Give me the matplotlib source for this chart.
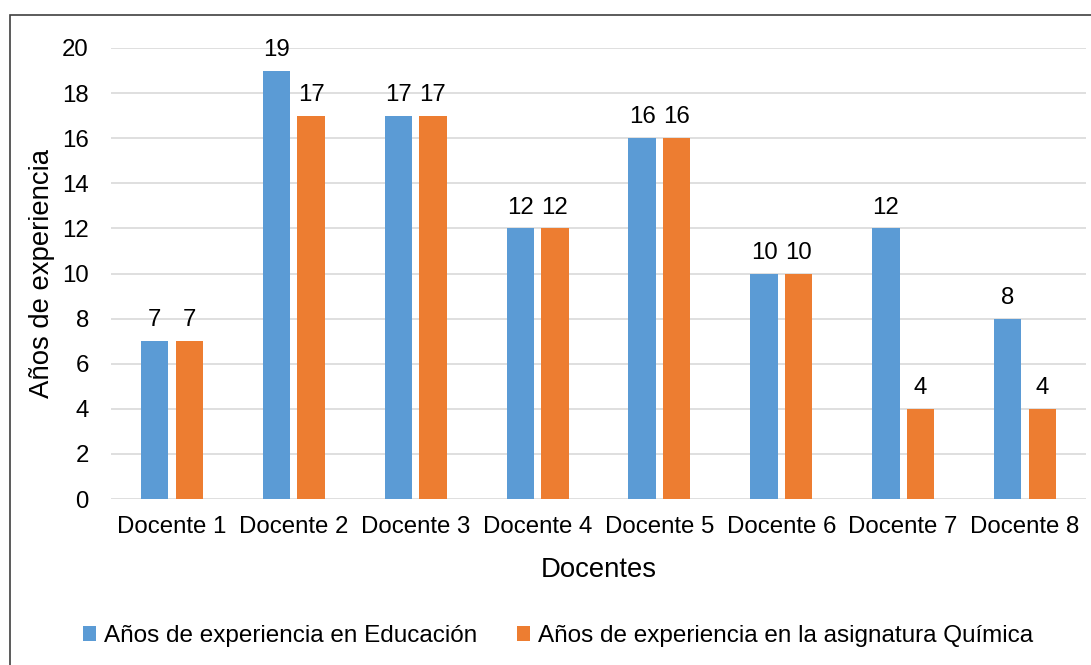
import numpy as np
import matplotlib.pyplot as plt
from matplotlib.patches import Rectangle

plt.rcParams['font.family'] = ['Liberation Sans', 'DejaVu Sans']

docentes = ['Docente 1', 'Docente 2', 'Docente 3', 'Docente 4',
            'Docente 5', 'Docente 6', 'Docente 7', 'Docente 8']
educacion = [7, 19, 17, 12, 16, 10, 12, 8]
quimica = [7, 17, 17, 12, 16, 10, 4, 4]

azul = '#5B9BD5'
naranja = '#ED7D31'

fig = plt.figure(figsize=(10.91, 6.65), dpi=100)
W, H = 1091, 665
ax = fig.add_axes([111 / W, 1 - 499 / H, (1086 - 111) / W, (499 - 48) / H])

x = np.arange(len(docentes))
w = 0.225
b1 = ax.bar(x - 0.142, educacion, w, color=azul, label='Años de experiencia en Educación')
b2 = ax.bar(x + 0.142, quimica, w, color=naranja, label='Años de experiencia en la asignatura Química')
ax.bar_label(b1, padding=7, fontsize=17.3)
ax.bar_label(b2, padding=7, fontsize=17.3)

ax.set_xlim(-0.5, len(docentes) - 0.5)
ax.set_ylim(0, 20)
ax.set_yticks(range(0, 21, 2))
ax.set_xticks(x)
ax.set_xticklabels(docentes)
ax.tick_params(axis='both', length=0, labelsize=17.3)
ax.tick_params(axis='x', pad=12)
ax.tick_params(axis='y', pad=16)
ax.grid(axis='y', color='#D9D9D9', linewidth=1.2)
ax.set_axisbelow(True)
for s in ax.spines.values():
    s.set_visible(False)

ax.set_ylabel('Años de experiencia', fontsize=19.8, labelpad=5)
ax.set_xlabel('Docentes', fontsize=19.8, labelpad=14)

fig.legend(loc='center', bbox_to_anchor=(558 / W, 1 - 636 / H), ncol=2, frameon=False,
           fontsize=17.5, handlelength=0.55, handleheight=0.55, handletextpad=0.3,
           columnspacing=1.65)

# marco exterior del gráfico
fig.patches.append(Rectangle((10 / W, -0.01), 1.05, 1 - 15 / H + 0.01,
                             transform=fig.transFigure, fill=False,
                             edgecolor='#404040', linewidth=1.2))

fig.savefig('out.png', dpi=100)
